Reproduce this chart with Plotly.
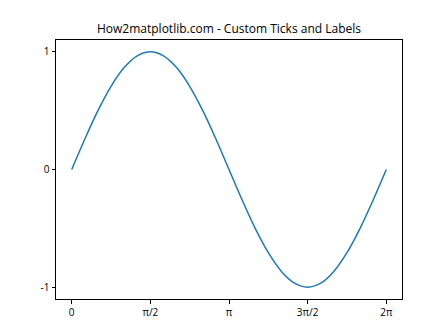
import math
import plotly.graph_objects as go

# x positions in units of pi/12 (0 .. 24)
x_steps = list(range(25))
y_values = [0.0, 0.259, 0.5, 0.707, 0.866, 0.966, 1.0, 0.966, 0.866, 0.707, 0.5, 0.259,
            0.0, -0.259, -0.5, -0.707, -0.866, -0.966, -1.0, -0.966, -0.866, -0.707, -0.5, -0.259, 0.0]
x_tick_vals = [0, 6, 12, 18, 24]
x_tick_text = ["0", "π/2", "π", "3π/2", "2π"]
y_tick_vals = [-1, 0, 1]
y_tick_text = ["-1", "0", "1"]

unit = math.pi / 12
xs = [s * unit for s in x_steps]

fig = go.Figure()
fig.add_trace(go.Scatter(x=xs, y=y_values, mode="lines", line=dict(color="#1f77b4", width=1.5, shape="spline"),
                         showlegend=False, hoverinfo="skip"))

xmax = 2 * math.pi
axis_common = dict(showgrid=False, zeroline=False, showline=True, linecolor="black", linewidth=1,
                   mirror=True, ticks="outside", ticklen=3.5, tickwidth=1, tickcolor="black",
                   tickfont=dict(family="Open Sans, sans-serif", size=10, color="black"))
fig.update_xaxes(range=[-0.05 * xmax, 1.05 * xmax], tickvals=[v * unit for v in x_tick_vals],
                 ticktext=x_tick_text, **axis_common)
fig.update_yaxes(range=[-1.1, 1.1], tickvals=y_tick_vals, ticktext=y_tick_text, **axis_common)

fig.update_layout(
    width=448, height=336,
    margin=dict(l=56, r=46, t=40, b=37),
    plot_bgcolor="white", paper_bgcolor="white",
    title=dict(text="How2matplotlib.com - Custom Ticks and Labels", x=0.5, xref="paper", xanchor="center",
               y=1 - 29 / 336, yanchor="middle",
               font=dict(family="Open Sans, sans-serif", size=12, color="black")),
)
fig.write_html("out.html")
